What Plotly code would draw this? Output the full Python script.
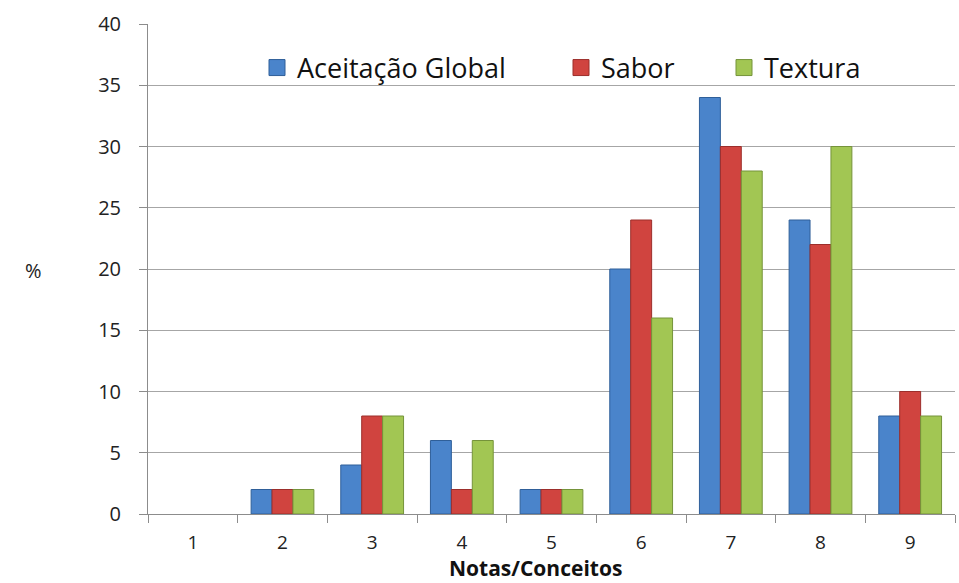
import plotly.graph_objects as go

categorias = ["1", "2", "3", "4", "5", "6", "7", "8", "9"]
aceitacao_global = [0, 2, 4, 6, 2, 20, 34, 24, 8]
sabor = [0, 2, 8, 2, 2, 24, 30, 22, 10]
textura = [0, 2, 8, 6, 2, 16, 28, 30, 8]

series = [
    ("Aceitação Global", aceitacao_global, "#4a84cb", "#2f5f99", "legend", 297),
    ("Sabor", sabor, "#d0443f", "#9c2e2b", "legend2", 601),
    ("Textura", textura, "#a2c653", "#75933a", "legend3", 764),
]

font_main = "Open Sans, Liberation Sans, sans-serif"
L, R, T, B = 148, 4, 24, 69
W, H = 959, 583
pw, ph = W - L - R, H - T - B

fig = go.Figure()
legend_layouts = {}
for nome, valores, cor, borda, leg, texto_x in series:
    fig.add_trace(go.Bar(
        x=categorias, y=valores, name=nome, legendgroup=nome, showlegend=False,
        marker=dict(
            color=cor,
            # no outline on empty bars so nothing is drawn at zero
            line=dict(color=borda, width=[1 if v > 0 else 0 for v in valores]),
        ),
    ))
    # legend entry with a larger square swatch
    fig.add_trace(go.Scatter(
        x=[None], y=[None], mode="markers", name=nome, legendgroup=nome,
        legend=leg, showlegend=True,
        marker=dict(symbol="square", size=16, color=cor, line=dict(color=borda, width=1)),
    ))
    legend_layouts[leg] = dict(
        x=(texto_x - 40 - L) / pw, xanchor="left",
        y=(514 - 68) / ph, yanchor="middle",
        font=dict(size=27, color="#111111", family=font_main),
        itemwidth=30, bgcolor="rgba(255,255,255,0)", orientation="h",
    )

fig.update_layout(
    width=W, height=H,
    margin=dict(l=L, r=R, t=T, b=B),
    paper_bgcolor="white", plot_bgcolor="white",
    barmode="group", bargap=0.3, bargroupgap=0,
    font=dict(family=font_main, size=20, color="#222222"),
    xaxis=dict(
        type="category", showline=True, linecolor="#8c8c8c", linewidth=1,
        ticks="outside", tickson="boundaries", ticklen=8, tickcolor="#8c8c8c",
        showgrid=False, tickfont=dict(size=19, color="#222222"),
        ticklabelstandoff=11,
    ),
    yaxis=dict(
        range=[0, 40], dtick=5, showline=True, linecolor="#8c8c8c", linewidth=1,
        ticks="outside", ticklen=8, tickcolor="#8c8c8c",
        gridcolor="#a6a6a6", gridwidth=1, zeroline=False,
        tickfont=dict(size=20, color="#222222"), ticklabelstandoff=14,
    ),
    annotations=[
        dict(
            text="%", x=(23 - L) / pw, y=(514 - 270) / ph, xref="paper", yref="paper",
            showarrow=False, font=dict(size=20, color="#222222"),
        ),
        dict(
            text="<b>Notas/Conceitos</b>", x=(535 - L) / pw, y=(514 - 568) / ph,
            xref="paper", yref="paper", showarrow=False, yanchor="middle",
            font=dict(size=21, color="#111111"),
        ),
    ],
    **legend_layouts,
)

fig.write_html("out.html")
